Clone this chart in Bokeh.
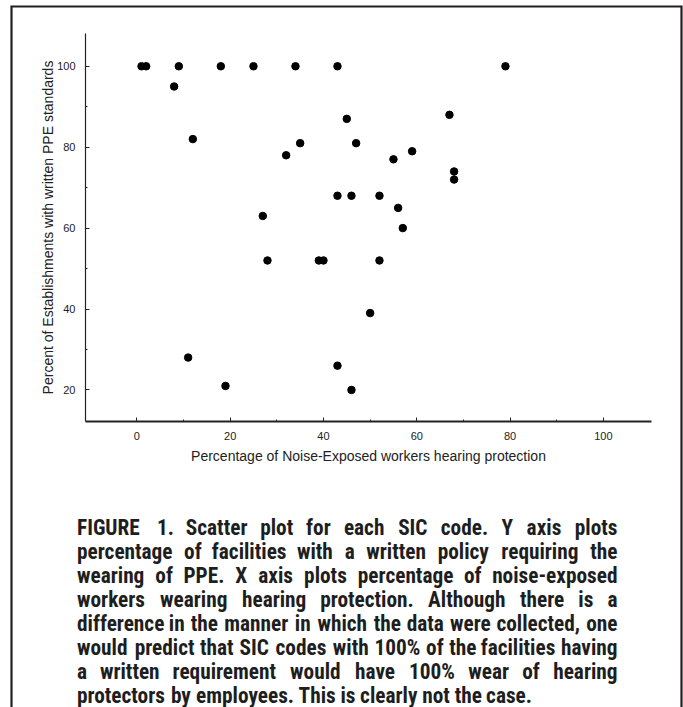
import math
from bokeh.plotting import figure
from bokeh.models import LinearAxis, FixedTicker, Range1d
from bokeh.core.properties import value
from bokeh.embed import file_html
from bokeh.resources import INLINE

# ---- data ----
noise_protect_pct = [1, 2, 9, 18, 25, 34, 43, 79,
                     8, 12, 45, 35, 47, 32, 55, 43, 46, 52, 56, 27, 67, 59, 68, 68,
                     57, 28, 39, 40, 52, 50, 11, 43, 19, 46]
written_ppe_pct = [100, 100, 100, 100, 100, 100, 100, 100,
                   95, 82, 87, 81, 81, 78, 77, 68, 68, 68, 65, 63, 88, 79, 74, 72,
                   60, 52, 52, 52, 52, 39, 28, 26, 21, 20]
x_ticks = [0, 20, 40, 60, 80, 100]
x_minor = [10, 30, 50, 70, 90]
y_ticks = [20, 40, 60, 80, 100]
y_minor = [30, 50, 70, 90]
x_label = "Percentage of Noise-Exposed workers hearing protection"
y_label = "Percent of Establishments with written PPE standards"
caption_lines = [
    "FIGURE 1. Scatter plot for each SIC code. Y axis plots",
    "percentage of facilities with a written policy requiring the",
    "wearing of PPE. X axis plots percentage of noise-exposed",
    "workers wearing hearing protection. Although there is a",
    "difference in the manner in which the data were collected, one",
    "would predict that SIC codes with 100% of the facilities having",
    "a written requirement would have 100% wear of hearing",
    "protectors by employees. This is clearly not the case.",
]

# ---- layout (page pixels) ----
W, H = 683, 707
PX_L, PX_R, PY_T, PY_B = 85, 651, 33, 421     # plot area
X0, X1 = -11.0, 110.3                          # value range of the plot area
Y0, Y1 = 12.2, 108.1
ink = "#222222"

sx = (PX_R - PX_L) / (X1 - X0)
sy = (PY_B - PY_T) / (Y1 - Y0)

p = figure(width=W, height=H, x_range=Range1d(0, W), y_range=Range1d(H, 0),
           x_axis_type=None, y_axis_type=None,
           output_backend="svg", toolbar_location=None,
           min_border=0, min_border_left=0, min_border_right=0,
           min_border_top=0, min_border_bottom=0)
p.grid.visible = False
p.outline_line_color = None
p.background_fill_color = "white"
p.border_fill_color = "white"

p.extra_x_ranges = {"val_x": Range1d(X0 - PX_L / sx, X0 + (W - PX_L) / sx)}
p.extra_y_ranges = {"val_y": Range1d(Y1 - (H - PY_T) / sy, Y1 + PY_T / sy)}

xaxis = LinearAxis(x_range_name="val_x", y_range_name="val_y", fixed_location=Y0,
                   bounds=(X0, X1), ticker=FixedTicker(ticks=x_ticks, minor_ticks=x_minor))
yaxis = LinearAxis(x_range_name="val_x", y_range_name="val_y", fixed_location=X0,
                   bounds=(Y0, Y1), ticker=FixedTicker(ticks=y_ticks, minor_ticks=y_minor))
for ax in (xaxis, yaxis):
    ax.major_tick_in = 4
    ax.major_tick_out = 0
    ax.minor_tick_in = 2
    ax.minor_tick_out = 0
    ax.major_tick_line_color = ink
    ax.minor_tick_line_color = ink
    ax.axis_line_color = ink
    ax.major_label_text_font = "Liberation Sans"
    ax.major_label_text_font_size = "11px"
    ax.major_label_text_color = ink
    ax.major_label_standoff = 10
xaxis.axis_line_width = 1.8
yaxis.axis_line_width = 1.2
p.add_layout(xaxis, "below")
p.add_layout(yaxis, "left")

p.scatter(noise_protect_pct, written_ppe_pct, x_range_name="val_x", y_range_name="val_y",
          size=7.5, color="black", line_color="black")

# axis titles
p.text(x=[(PX_L + PX_R) / 2], y=[455], text=[x_label], text_font=value("Liberation Sans"),
       text_font_size=value("14px"), text_color=ink, text_align="center", text_baseline="middle")
p.text(x=[47.5], y=[(PY_T + PY_B) / 2], text=[y_label], text_font=value("Liberation Sans"),
       text_font_size=value("14px"), text_color=ink, text_align="center", text_baseline="middle",
       angle=math.pi / 2)

# outer frame, open at the bottom
BOX_L, BOX_R, BOX_T = 11, 681, 6
p.line(x=[BOX_L, BOX_L, BOX_R, BOX_R], y=[H + 20, BOX_T, BOX_T, H + 20],
       line_width=2.2, line_color="#231f20", line_join="miter")

# ---- caption, justified word by word ----
arial_bold = {
    ' ': 278, 'a': 556, 'b': 611, 'c': 556, 'd': 611, 'e': 556, 'f': 333, 'g': 611,
    'h': 611, 'i': 278, 'j': 278, 'k': 556, 'l': 278, 'm': 889, 'n': 611, 'o': 611,
    'p': 611, 'q': 611, 'r': 389, 's': 556, 't': 333, 'u': 611, 'v': 556, 'w': 778,
    'x': 556, 'y': 556, 'z': 500, 'A': 722, 'B': 722, 'C': 722, 'D': 722, 'E': 667,
    'F': 611, 'G': 778, 'H': 722, 'I': 278, 'J': 556, 'K': 722, 'L': 611, 'M': 833,
    'N': 722, 'O': 778, 'P': 667, 'Q': 778, 'R': 722, 'S': 667, 'T': 611, 'U': 722,
    'V': 667, 'W': 944, 'X': 667, 'Y': 667, 'Z': 611, '.': 278, ',': 278, '%': 889,
    '-': 333, '0': 556, '1': 556, '2': 556, '3': 556, '4': 556, '5': 556, '6': 556,
    '7': 556, '8': 556, '9': 556,
}
FS = 21.3
NARROW = 0.84
CAP_FONT = "Roboto Condensed"


def text_w(s):
    return sum(arial_bold.get(ch, 556) for ch in s) * NARROW * FS / 1000.0


CAP_L, CAP_R = 76.5, 617.0
BASE0, LEAD = 526.5, 24.1
wx, wy, wt, wa = [], [], [], []
for i, line in enumerate(caption_lines):
    words = line.split(" ")
    base = BASE0 + i * LEAD
    widths = [text_w(w) for w in words]
    last = i == len(caption_lines) - 1
    if not last:
        gap = (CAP_R - CAP_L - sum(widths)) / (len(words) - 1)
    else:
        gap = text_w(" ")
    cx = CAP_L
    for k, (w, wd) in enumerate(zip(words, widths)):
        wy.append(base)
        wt.append(w)
        if k == 0:
            wx.append(CAP_L)
            wa.append("left")
        elif k == len(words) - 1 and not last:
            wx.append(CAP_R)
            wa.append("right")
        else:
            wx.append(cx + wd / 2)
            wa.append("center")
        cx += wd + gap

p.text(x=wx, y=wy, text=wt, text_align=wa, text_font=value(CAP_FONT), text_font_style="bold",
       text_font_size=value(f"{FS}px"), text_color="#1e1e1e", text_baseline="alphabetic")

open("out.html", "w").write(file_html(p, INLINE))
